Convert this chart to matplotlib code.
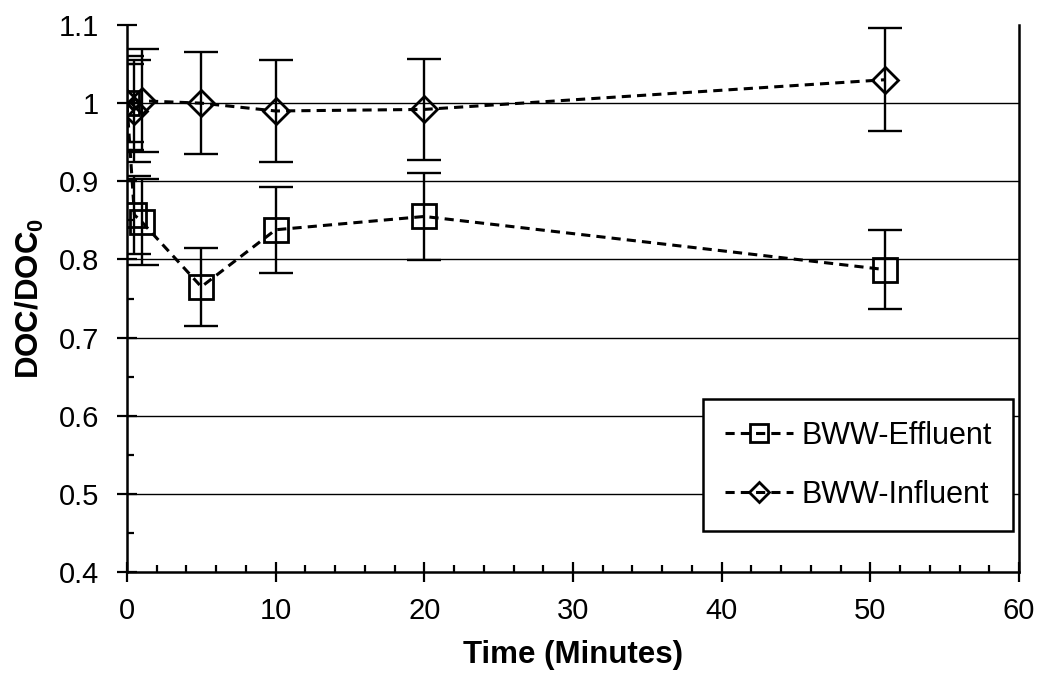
import matplotlib
matplotlib.use("Agg")
import matplotlib.pyplot as plt
from matplotlib.ticker import MultipleLocator

plt.rcParams['font.family'] = ['Liberation Sans', 'DejaVu Sans']
plt.rcParams['mathtext.fontset'] = 'custom'
plt.rcParams['mathtext.rm'] = 'Liberation Sans'
plt.rcParams['mathtext.bf'] = 'Liberation Sans:bold'

time = [0, 0.5, 1, 5, 10, 20, 51]
effluent = [1.0, 0.857, 0.848, 0.765, 0.838, 0.855, 0.787]
effluent_err = [0.05, 0.05, 0.055, 0.05, 0.055, 0.056, 0.051]
influent = [1.0, 0.99, 1.003, 1.0, 0.99, 0.992, 1.03]
influent_err = [0.06, 0.065, 0.066, 0.065, 0.065, 0.065, 0.066]
yticks = [0.4, 0.5, 0.6, 0.7, 0.8, 0.9, 1.0, 1.1]
ytick_labels = ['0.4', '0.5', '0.6', '0.7', '0.8', '0.9', '1', '1.1']
gridlines = [0.5, 0.6, 0.7, 0.8, 0.9, 1.0]

fig = plt.figure(figsize=(10.4, 6.76), dpi=100)
ax = fig.add_axes([0.1221, 0.1538, 0.8577, 0.8092])

ax.set_xlim(0, 60)
ax.set_ylim(0.4, 1.1)

for y in gridlines:
    ax.axhline(y, color='black', lw=1.0, zorder=0)

ax.errorbar(time, effluent, yerr=effluent_err, fmt='none', ecolor='black',
            elinewidth=1.7, capsize=12, capthick=1.7, zorder=2)
ax.errorbar(time, influent, yerr=influent_err, fmt='none', ecolor='black',
            elinewidth=1.7, capsize=12, capthick=1.7, zorder=2)

ax.plot(time, effluent, linestyle=(0, (3, 2)), color='black', lw=2.2,
        marker='s', markersize=17, markerfacecolor='none', markeredgecolor='black',
        markeredgewidth=2.0, label='BWW-Effluent', zorder=3)
ax.plot(time, influent, linestyle=(0, (3, 2)), color='black', lw=2.2,
        marker='D', markersize=13, markerfacecolor='none', markeredgecolor='black',
        markeredgewidth=2.0, label='BWW-Influent', zorder=4)

ax.spines['top'].set_visible(False)
for s in ['left', 'bottom', 'right']:
    ax.spines[s].set_linewidth(1.8)

ax.xaxis.set_major_locator(MultipleLocator(10))
ax.xaxis.set_minor_locator(MultipleLocator(2))
ax.set_yticks(yticks)
ax.set_yticklabels(ytick_labels)
ax.yaxis.set_minor_locator(MultipleLocator(0.05))
ax.tick_params(axis='both', which='major', direction='inout', length=14, width=1.6,
               labelsize=21)
ax.tick_params(axis='x', which='major', pad=11)
ax.tick_params(axis='y', which='major', pad=13)
ax.tick_params(axis='both', which='minor', direction='in', length=5, width=1.6)
ax.tick_params(axis='y', which='both', right=False)
ax.tick_params(axis='x', which='both', top=False)

ax.set_xlabel('Time (Minutes)', fontsize=22.5, fontweight='bold', labelpad=11)
ax.set_ylabel('DOC/DOC$_\\mathbf{0}$', fontsize=22.5, fontweight='bold', labelpad=9)

leg = ax.legend(loc='lower right', bbox_to_anchor=(0.9933, 0.075), fontsize=22,
                frameon=True, fancybox=False, edgecolor='black', framealpha=1,
                borderpad=0.7, labelspacing=0.95, handlelength=2.25, handletextpad=0.26,
                markerscale=0.75, borderaxespad=0)
leg.get_frame().set_linewidth(1.8)

fig.savefig('out.png', dpi=100)
